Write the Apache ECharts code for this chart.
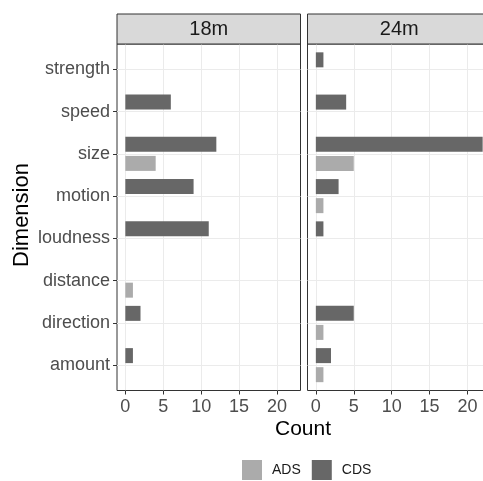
<!DOCTYPE html>
<html><head><meta charset="utf-8">
<script src="https://cdn.jsdelivr.net/npm/echarts@6/dist/echarts.min.js"></script>
<style>html,body{margin:0;padding:0;background:#fff}#c{width:483px;height:481px}</style>
</head><body><div id="c"></div>
<script>
const categories = ['amount','direction','distance','loudness','motion','size','speed','strength'];
const panels = ['18m','24m'];
const seriesNames = ['ADS','CDS'];
const ads18 = [null,null,1,null,null,4,null,null];
const cds18 = [1,2,null,11,9,12,6,null];
const ads24 = [1,1,null,null,1,5,null,null];
const cds24 = [2,5,null,1,3,22,4,1];
const xTicks = [0,5,10,15,20];
const yTicks = [0,1,2,3,4,5,6,7];
const colors = {ADS: '#ababab', CDS: '#676767'};

const FONT = 'Liberation Sans, Arial, sans-serif';
const panelLeft = [117, 307.5];
const panelW = 183.5, panelTop = 44, panelH = 346.5;
const unit = panelH / 8.2;
const xMin = -1.1, xMax = 23.1;

const chart = echarts.init(document.getElementById('c'), null, {renderer:'canvas'});

const grids = [], xAxes = [], yAxes = [], series = [], graphics = [];
panels.forEach((p, i) => {
  grids.push({left: panelLeft[i], top: panelTop, width: panelW, height: panelH, outerBoundsMode: 'none',
    show: true, borderColor: '#333', borderWidth: 1, backgroundColor: 'rgba(0,0,0,0)', containLabel: false});
});
panels.forEach((p, i) => {
  grids.push({left: panelLeft[i], top: panelTop + 0.1 * unit, width: panelW, height: 8 * unit,
    outerBoundsMode: 'none', show: false});
});
panels.forEach((p, i) => {
  xAxes.push({type: 'value', gridIndex: i, min: xMin, max: xMax, position: 'bottom',
    axisLine: {show: false, onZero: false},
    axisTick: {show: true, customValues: xTicks, length: 4, lineStyle: {color: '#333', width: 1}},
    axisLabel: {customValues: xTicks, color: '#4d4d4d', fontSize: 18, margin: 8, fontFamily: FONT},
    splitLine: {show: true, lineStyle: {color: '#ebebeb', width: 1}}});
  yAxes.push({type: 'value', gridIndex: i, min: -0.6, max: 7.6, position: 'left',
    axisLine: {show: false, onZero: false},
    axisTick: {show: i === 0, customValues: yTicks, length: 4, lineStyle: {color: '#333', width: 1}},
    axisLabel: {show: i === 0, customValues: yTicks, color: '#4d4d4d', fontSize: 18, margin: 7, fontFamily: FONT,
      formatter: v => categories[Math.round(v)]},
    splitLine: {show: true, lineStyle: {color: '#ebebeb', width: 1}}});
});
panels.forEach((p, i) => {
  xAxes.push({type: 'value', gridIndex: 2 + i, min: xMin, max: xMax, show: false});
  yAxes.push({type: 'category', gridIndex: 2 + i, data: categories, show: false});
});
const dataSets = [{ADS: ads18, CDS: cds18}, {ADS: ads24, CDS: cds24}];
panels.forEach((p, i) => {
  ['CDS', 'ADS'].forEach(s => {
    series.push({type: 'bar', name: s, xAxisIndex: 2 + i, yAxisIndex: 2 + i,
      data: dataSets[i][s], barWidth: 15, barGap: '27%',
      itemStyle: {color: colors[s]}, silent: true});
  });
  graphics.push({type: 'rect', shape: {x: panelLeft[i], y: 14, width: panelW, height: panelTop - 14},
    style: {fill: '#d9d9d9', stroke: '#333', lineWidth: 1}, z: 10});
  graphics.push({type: 'text', x: panelLeft[i] + panelW / 2, y: 29,
    style: {text: p, fill: '#1a1a1a', font: '20px ' + FONT, textAlign: 'center', textVerticalAlign: 'middle'}, z: 11});
});
graphics.push({type: 'text', x: 303, y: 429,
  style: {text: 'Count', fill: '#000', font: '21px ' + FONT, textAlign: 'center', textVerticalAlign: 'middle'}});
graphics.push({type: 'text', x: 22, y: 215, rotation: Math.PI / 2,
  style: {text: 'Dimension', fill: '#000', font: '22px ' + FONT, textAlign: 'center', textVerticalAlign: 'middle'}});

chart.setOption({
  animation: false,
  backgroundColor: '#fff',
  textStyle: {fontFamily: FONT},
  grid: grids, xAxis: xAxes, yAxis: yAxes, series: series,
  legend: {data: seriesNames, left: 242, top: 460, padding: 0, itemWidth: 20, itemHeight: 20, icon: 'rect', itemGap: 11,
    textStyle: {fontSize: 14, color: '#1a1a1a', fontFamily: FONT, padding: [0, 0, 0, 5]}},
  graphic: graphics
});
</script></body></html>
